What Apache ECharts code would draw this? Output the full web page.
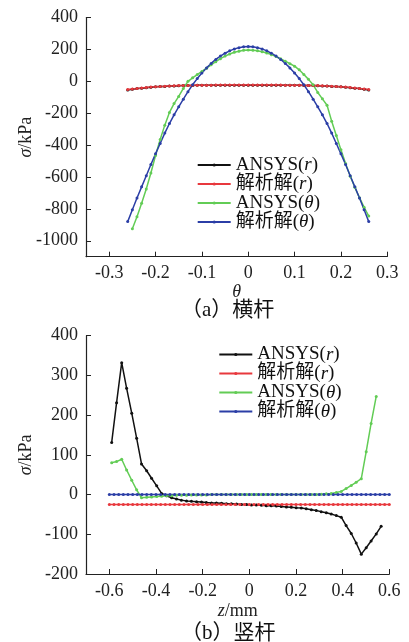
<!DOCTYPE html>
<html><head><meta charset="utf-8">
<script src="https://cdn.jsdelivr.net/npm/echarts@6/dist/echarts.min.js"></script>
<style>html,body{margin:0;padding:0;background:#fff}#c{width:409px;height:642px}</style>
</head><body><div id="c"></div>
<script>
// ---------- (a) 横杆 ----------
const theta = [-0.26,-0.25,-0.24,-0.23,-0.22,-0.21,-0.20,-0.19,-0.18,-0.17,-0.16,-0.15,-0.14,-0.13,-0.12,-0.11,-0.10,-0.09,-0.08,-0.07,-0.06,-0.05,-0.04,-0.03,-0.02,-0.01,0,0.01,0.02,0.03,0.04,0.05,0.06,0.07,0.08,0.09,0.10,0.11,0.12,0.13,0.14,0.15,0.16,0.17,0.18,0.19,0.20,0.21,0.22,0.23,0.24,0.25,0.26];
const aAnsysR = [-54,-50,-46,-43,-40,-37,-35,-33,-32,-30,-29,-28,-27,-26,-26,-25,-25,-25,-25,-25,-25,-25,-25,-25,-25,-25,-25,-25,-25,-25,-25,-25,-25,-25,-25,-25,-25,-25,-26,-26,-27,-28,-29,-30,-32,-33,-35,-37,-40,-43,-46,-50,-54];
const aAnaR = [-52,-49,-45,-42,-39,-36,-34,-32,-31,-29,-28,-27,-26,-26,-25,-25,-25,-25,-25,-24,-24,-24,-24,-24,-24,-24,-24,-24,-24,-24,-24,-24,-24,-24,-25,-25,-25,-25,-25,-26,-26,-27,-28,-29,-31,-32,-34,-36,-39,-42,-45,-49,-52];
const aAnsysT = [null,-925,-850,-765,-675,-575,-465,-365,-275,-195,-140,-95,-45,0,22,42,62,82,103,123,142,158,171,182,189,194,196,195,191,185,177,167,155,141,126,110,95,72,42,12,-22,-70,-110,-150,-250,-340,-430,-515,-595,-665,-730,-790,-845];
const aAnaT = [-880,-805,-732,-662,-592,-522,-455,-390,-325,-265,-210,-160,-112,-65,-22,17,52,84,112,137,158,176,191,203,211,216,218,216,211,203,191,176,158,137,112,84,52,17,-22,-65,-112,-160,-210,-265,-325,-390,-455,-522,-592,-662,-732,-805,-880];
const aXTicks = [-0.3,-0.2,-0.1,0,0.1,0.2,0.3];
const aYTicks = [-1000,-800,-600,-400,-200,0,200,400];

// ---------- (b) 竖杆 ----------
const zAnsys = [-0.590,-0.569,-0.547,-0.526,-0.504,-0.483,-0.462,-0.440,-0.419,-0.397,-0.376,-0.355,-0.333,-0.312,-0.291,-0.269,-0.248,-0.226,-0.205,-0.184,-0.162,-0.141,-0.119,-0.098,-0.077,-0.055,-0.034,-0.012,0.009,0.030,0.052,0.073,0.094,0.116,0.137,0.159,0.180,0.201,0.223,0.244,0.266,0.287,0.308,0.330,0.351,0.373,0.394,0.415,0.437,0.458,0.480,0.501,0.522,0.544,0.565];
const bAnsysR = [131,231,332,268,205,142,77,60,41,22,3,-3,-8,-11,-14,-16,-17,-18,-19,-20,-21,-21,-22,-23,-23,-24,-25,-25,-26,-26,-27,-28,-28,-29,-30,-31,-32,-33,-34,-36,-38,-40,-43,-46,-49,-53,-57,-78,-98,-122,-150,-134,-117,-99,-80];
const bAnsysT = [80,83,89,62,36,12,-8,-7,-6,-5,-4,-3,-3,-2,-2,-2,-1,-1,-1,-1,0,0,0,0,0,0,0,0,0,0,0,0,0,0,0,0,0,0,0,0,0,0,1,2,3,5,8,15,23,31,40,108,179,247,null];
const zAna = [-0.60,-0.58,-0.56,-0.54,-0.52,-0.50,-0.48,-0.46,-0.44,-0.42,-0.40,-0.38,-0.36,-0.34,-0.32,-0.30,-0.28,-0.26,-0.24,-0.22,-0.20,-0.18,-0.16,-0.14,-0.12,-0.10,-0.08,-0.06,-0.04,-0.02,0,0.02,0.04,0.06,0.08,0.10,0.12,0.14,0.16,0.18,0.20,0.22,0.24,0.26,0.28,0.30,0.32,0.34,0.36,0.38,0.40,0.42,0.44,0.46,0.48,0.50,0.52,0.54,0.56,0.58,0.60];
const bAnaR = [-25,-25,-25,-25,-25,-25,-25,-25,-25,-25,-25,-25,-25,-25,-25,-25,-25,-25,-25,-25,-25,-25,-25,-25,-25,-25,-25,-25,-25,-25,-25,-25,-25,-25,-25,-25,-25,-25,-25,-25,-25,-25,-25,-25,-25,-25,-25,-25,-25,-25,-25,-25,-25,-25,-25,-25,-25,-25,-25,-25,-25];
const bAnaT = [0,0,0,0,0,0,0,0,0,0,0,0,0,0,0,0,0,0,0,0,0,0,0,0,0,0,0,0,0,0,0,0,0,0,0,0,0,0,0,0,0,0,0,0,0,0,0,0,0,0,0,0,0,0,0,0,0,0,0,0,0];
const bXTicks = [-0.6,-0.4,-0.2,0,0.2,0.4,0.6];

const names = ['ANSYS(r)','解析解(r)','ANSYS(θ)','解析解(θ)'];
const colors = ['#111111','#e8383d','#62cc55','#2b3ea6'];
const SERIF = 'Liberation Serif, Noto Sans CJK SC, serif';

function pairs(xs, ys){ return xs.map((x,i)=>[x, ys[i]]); }
function mkSeries(name, color, data, gi){
  return {name, type:'line', xAxisIndex:gi, yAxisIndex:gi, data,
    symbol:'circle', symbolSize:3, showSymbol:true, connectNulls:false,
    lineStyle:{color, width:1.5}, itemStyle:{color}, animation:false, z:2};
}
const rich = {
  a:{fontFamily:SERIF, fontSize:19, color:'#111', lineHeight:20.3},
  i:{fontFamily:SERIF, fontSize:19, fontStyle:'italic', color:'#111', lineHeight:20.3}
};
function legendFmt(n){
  const m = n.match(/^(.*)\((.)\)$/);
  return '{a|'+m[1]+'(}{i|'+m[2]+'}{a|)}';
}
const axisLineStyle = {show:true, onZero:false, lineStyle:{color:'#222', width:1.2}};
const labelBase = {fontFamily:SERIF, fontSize:18, color:'#222', margin:8};
const nameRich = {
  n:{fontFamily:SERIF, fontSize:18, color:'#222'},
  i:{fontFamily:SERIF, fontSize:18, fontStyle:'italic', color:'#222'}
};
const fmt1 = v => String(+(+v).toFixed(1));
const fmt0 = v => String(Math.round(v));
const capFont = '21px Liberation Serif, Noto Sans CJK SC, serif';

const chart = echarts.init(document.getElementById('c'), null, {renderer:'canvas'});
chart.setOption({
  backgroundColor:'#fff',
  animation:false,
  grid:[
    {left:86, top:17.5, width:301.3, height:239.2},
    {left:86, top:335.7, width:303.3, height:238.3}
  ],
  xAxis:[
    {gridIndex:0, type:'value', min:-0.35, max:0.3,
      axisLine:axisLineStyle, splitLine:{show:false},
      axisTick:{show:true, inside:true, length:5, customValues:aXTicks, lineStyle:{color:'#222'}},
      axisLabel:Object.assign({customValues:aXTicks, formatter:fmt1}, labelBase),
      name:'{i|θ}', nameLocation:'middle', nameGap:27, nameMoveOverlap:false, nameTextStyle:{rich:nameRich}},
    {gridIndex:1, type:'value', min:-0.7, max:0.6,
      axisLine:axisLineStyle, splitLine:{show:false},
      axisTick:{show:true, inside:true, length:5, customValues:bXTicks, lineStyle:{color:'#222'}},
      axisLabel:Object.assign({customValues:bXTicks, formatter:fmt1}, labelBase),
      name:'{i|z}{n|/mm}', nameLocation:'middle', nameGap:28, nameMoveOverlap:false, nameTextStyle:{rich:nameRich}}
  ],
  yAxis:[
    {gridIndex:0, type:'value', min:-1100, max:400,
      axisLine:axisLineStyle, splitLine:{show:false},
      axisTick:{show:true, inside:true, length:5, customValues:aYTicks, lineStyle:{color:'#222'}},
      axisLabel:Object.assign({customValues:aYTicks, formatter:fmt0}, labelBase),
      name:'{i|σ}{n|/kPa}', nameLocation:'middle', nameGap:51, nameMoveOverlap:false, nameTextStyle:{rich:nameRich}},
    {gridIndex:1, type:'value', min:-200, max:400, interval:100,
      axisLine:axisLineStyle, splitLine:{show:false},
      axisTick:{show:true, inside:true, length:5, lineStyle:{color:'#222'}},
      axisLabel:Object.assign({formatter:fmt0}, labelBase),
      name:'{i|σ}{n|/kPa}', nameLocation:'middle', nameGap:51, nameMoveOverlap:false, nameTextStyle:{rich:nameRich}}
  ],
  legend:[
    {orient:'vertical', left:196.7, top:155.5, padding:0, itemWidth:33, itemHeight:4, itemGap:0,
      data:names, formatter:legendFmt, textStyle:{rich}, selectedMode:false},
    {orient:'vertical', left:218.3, top:345, padding:0, itemWidth:33, itemHeight:4, itemGap:0,
      data:names, formatter:legendFmt, textStyle:{rich}, selectedMode:false}
  ],
  graphic:[
    {type:'text', left:181, top:300, style:{text:'（a）横杆', font:capFont, fill:'#111'}},
    {type:'text', left:181, top:623, style:{text:'（b）竖杆', font:capFont, fill:'#111'}}
  ],
  series:[
    mkSeries(names[0], colors[0], pairs(theta, aAnsysR), 0),
    mkSeries(names[1], colors[1], pairs(theta, aAnaR), 0),
    mkSeries(names[2], colors[2], pairs(theta, aAnsysT), 0),
    mkSeries(names[3], colors[3], pairs(theta, aAnaT), 0),
    mkSeries(names[0], colors[0], pairs(zAnsys, bAnsysR), 1),
    mkSeries(names[1], colors[1], pairs(zAna, bAnaR), 1),
    mkSeries(names[2], colors[2], pairs(zAnsys, bAnsysT), 1),
    mkSeries(names[3], colors[3], pairs(zAna, bAnaT), 1)
  ]
});
</script></body></html>
